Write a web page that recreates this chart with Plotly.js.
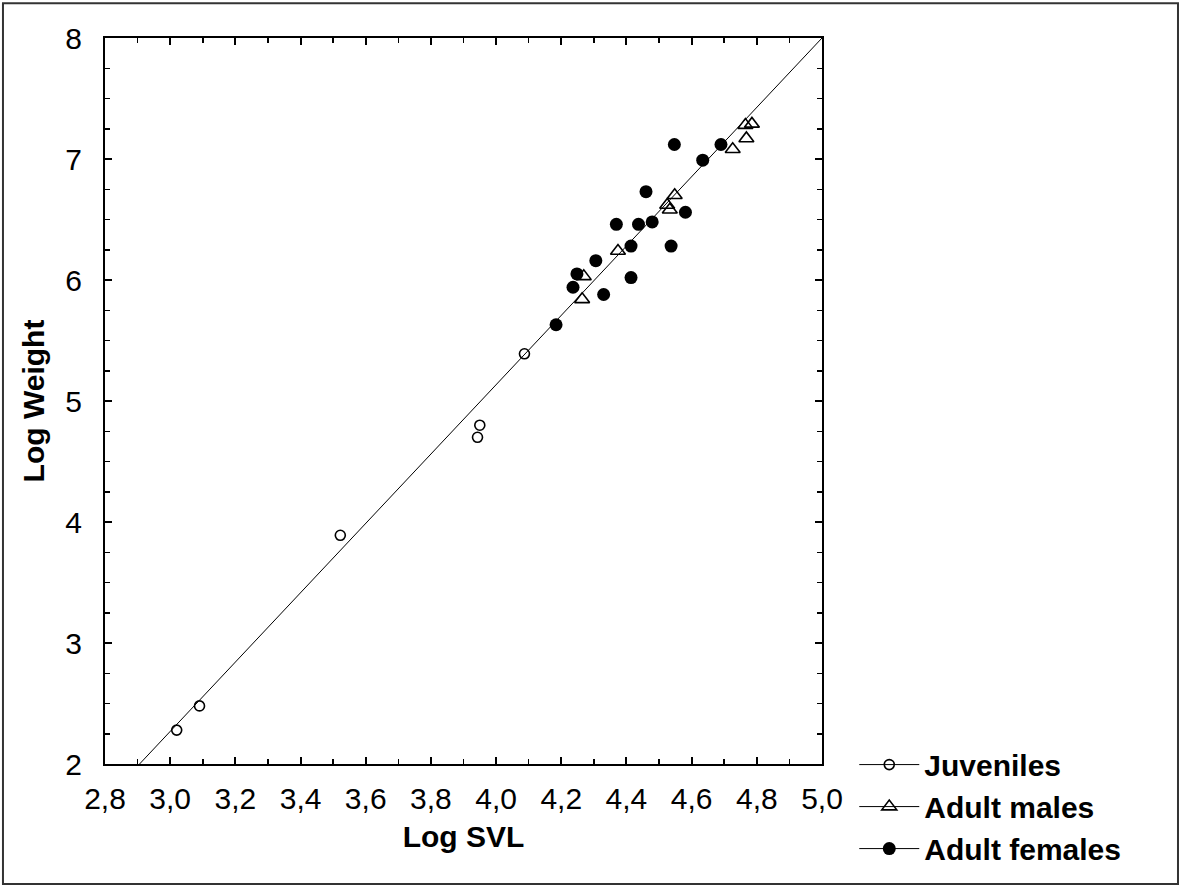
<!DOCTYPE html>
<html>
<head>
<meta charset="utf-8">
<script src="https://cdn.plot.ly/plotly-3.0.1.min.js"></script>
<style>
  html, body { margin: 0; padding: 0; background: #fff; }
  #chart { width: 1181px; height: 887px; }
</style>
</head>
<body>
<div id="chart"></div>
<script>
// Log SVL / Log Weight readings per group
const juvX = [3.020, 3.090, 3.522, 3.943, 3.950, 4.087];
const juvY = [2.28, 2.48, 3.89, 4.70, 4.80, 5.39];

const maleX = [4.264, 4.269, 4.374, 4.525, 4.533, 4.548, 4.726, 4.768, 4.765, 4.785];
const maleY = [5.84, 6.03, 6.24, 6.62, 6.58, 6.70, 7.08, 7.17, 7.28, 7.29];

const femX = [4.184, 4.236, 4.248, 4.306, 4.330, 4.369, 4.414, 4.414, 4.437, 4.460,
              4.479, 4.537, 4.547, 4.581, 4.634, 4.690];
const femY = [5.63, 5.94, 6.05, 6.16, 5.88, 6.46, 6.28, 6.02, 6.46, 6.73,
              6.48, 6.28, 7.12, 6.56, 6.99, 7.12];

// fitted line end points
const fitX = [2.906, 5.0];
const fitY = [2.0, 8.0];

const groupNames = ["Juveniles", "Adult males", "Adult females"];

const black = "#000";

const juvMarker = { symbol: "circle-open", size: 10, color: black, line: { width: 1.6, color: black } };
const maleMarker = { symbol: "triangle-up-open", size: 13, color: black, line: { width: 1.6, color: black } };
const femMarker = { symbol: "circle", size: 13, color: black };

const traces = [
    {
        x: fitX, y: fitY, mode: "lines", type: "scatter",
        line: { color: black, width: 1 }, showlegend: false, hoverinfo: "skip"
    },
    { x: juvX, y: juvY, mode: "markers", type: "scatter", marker: juvMarker, showlegend: false },
    { x: maleX, y: maleY, mode: "markers", type: "scatter", marker: maleMarker, showlegend: false },
    { x: femX, y: femY, mode: "markers", type: "scatter", marker: femMarker, showlegend: false }
];

// legend keys: marker on a line, like the original
[juvMarker, maleMarker, femMarker].forEach((m, i) => {
    traces.push({
        x: [null], y: [null], mode: "lines+markers", type: "scatter", name: groupNames[i],
        marker: m, line: { color: black, width: 1 }
    });
});

const axisCommon = {
    showgrid: false, zeroline: false,
    showline: true, linecolor: black, linewidth: 2, mirror: "ticks",
    ticks: "inside", ticklen: 7, tickwidth: 2, tickcolor: black,
    tickfont: { family: "Liberation Sans, Arial, sans-serif", size: 30, color: black }
};

const layout = {
    width: 1181, height: 887,
    paper_bgcolor: "#fff", plot_bgcolor: "#fff",
    separators: ", ",
    margin: { l: 105, r: 359, t: 38, b: 123 },
    font: { family: "Liberation Sans, Arial, sans-serif", color: black },
    xaxis: Object.assign({}, axisCommon, {
        range: [2.8, 5.0], dtick: 0.2, tick0: 2.8, tickformat: ".1f",
        minor: { dtick: 0.1, ticks: "inside", ticklen: 5, tickwidth: 1.5, tickcolor: black },
        ticklabelstandoff: 7,
        title: { text: "<b>Log SVL</b>", font: { size: 30 }, standoff: 12 }
    }),
    yaxis: Object.assign({}, axisCommon, {
        range: [2, 8], dtick: 1, tick0: 2,
        minor: { dtick: 0.25, ticks: "inside", ticklen: 5, tickwidth: 1.5, tickcolor: black },
        ticklabelstandoff: 15,
        title: { text: "<b>Log Weight</b>", font: { size: 30 }, standoff: 12 }
    }),
    legend: {
        x: 1.045, xanchor: "left", y: 0.035, yanchor: "top",
        font: { size: 30, color: black, weight: "bold" },
        bgcolor: "rgba(0,0,0,0)", itemwidth: 60, tracegroupgap: 0
    },
    shapes: [{
        type: "rect", xref: "paper", yref: "paper",
        x0: -0.1423, x1: 1.4965, y0: -0.1653, y1: 1.048,
        line: { color: "#333", width: 2 }
    }]
};

Plotly.newPlot("chart", traces, layout, { staticPlot: true });
</script>
</body>
</html>
